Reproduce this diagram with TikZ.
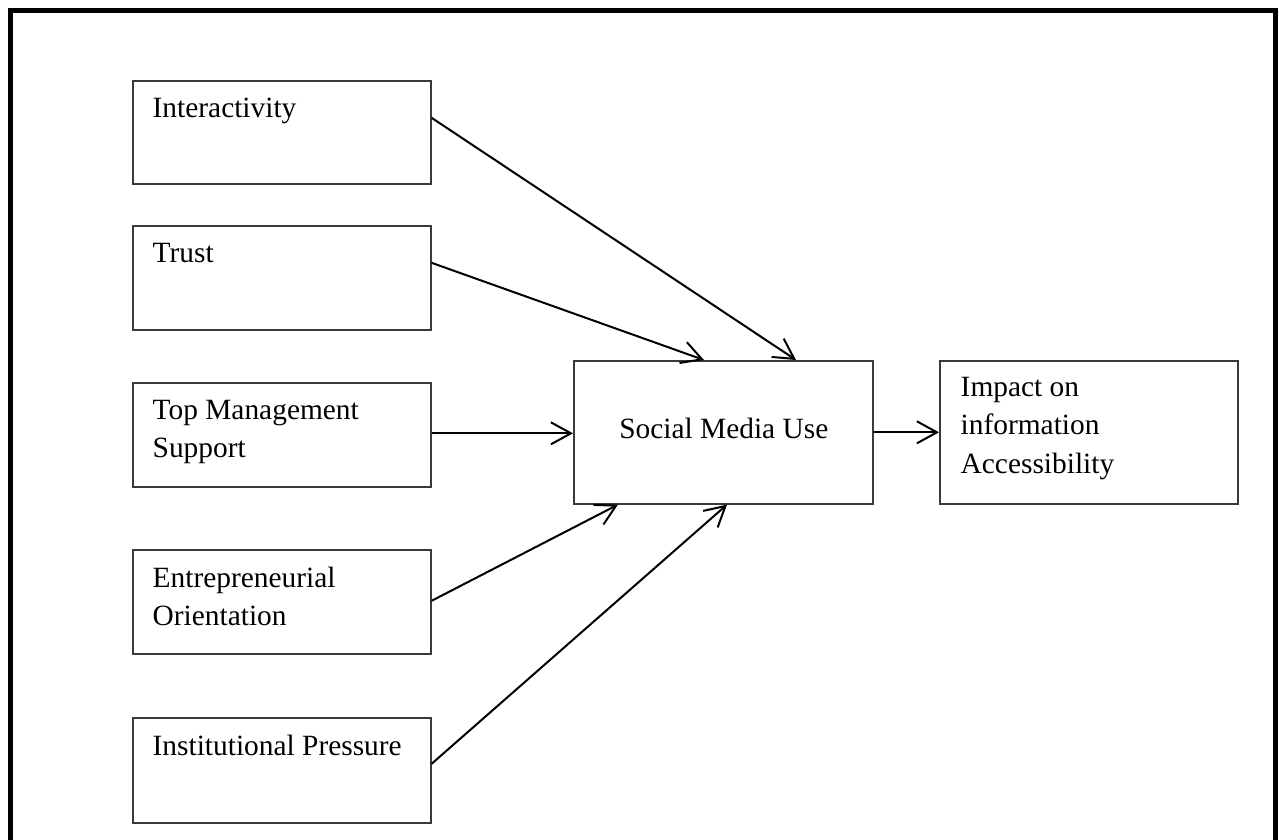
\documentclass[tikz,border=0pt]{standalone}
\usepackage{fontspec}
\setmainfont{Liberation Serif}
\usetikzlibrary{arrows.meta,calc}
\definecolor{boxgray}{HTML}{3A3A3A}
\begin{document}
\begin{tikzpicture}[x=1pt,y=-1pt,
  box/.style={draw=boxgray,line width=1.6pt,minimum width=298pt,minimum height=104pt,inner sep=0pt,anchor=north west},
  lbl/.style={anchor=north west,inner sep=0pt,align=left,font=\fontsize{29.4}{38.2}\selectfont},
  conn/.style={draw=black,line width=2pt,-{Straight Barb[length=20pt,width=22pt]}}]
\useasboundingbox (0,0) rectangle (1279,839);
% outer frame
\draw[line width=5pt] (10.3,845) -- (10.3,10.8) -- (1275.8,10.8) -- (1275.8,845);
% boxes
\node[box,minimum height=103pt] (inter) at (132,80) {};
\node[box] (trust) at (132,225) {};
\node[box] (tms) at (132,382) {};
\node[box] (eo) at (132,549) {};
\node[box,minimum height=105pt] (ip) at (132,717) {};
\node[box,minimum width=299pt,minimum height=143pt] (smu) at (573,360) {};
\node[box,minimum height=143pt] (imp) at (939,360) {};
% labels
\node[lbl] (tinter) at ($(inter.north west)+(20.5,18)$) {Interactivity};
\node[lbl] (ttrust) at ($(trust.north west)+(20.5,18)$) {Trust};
\node[lbl] (ttms) at ($(tms.north west)+(20.5,18)$) {Top Management\\Support};
\node[lbl] (teo) at ($(eo.north west)+(20.5,18)$) {Entrepreneurial\\Orientation};
\node[lbl] (tip) at ($(ip.north west)+(20.5,18)$) {Institutional Pressure};
\node[anchor=base,inner sep=0pt,font=\fontsize{29.4}{38.2}\selectfont] (tsmu) at ($(smu.center)+(0.5,5.8)$) {Social Media Use};
\node[lbl] (timp) at ($(imp.north west)+(21.5,17.2)$) {Impact on\\information\\Accessibility};
% connectors
\draw[conn] ([yshift=14.5pt]inter.east) -- ($(smu.north west)+(223,0)$);
\draw[conn] ([yshift=15pt]trust.east) -- ($(smu.north west)+(131,0)$);
\draw[conn] ([yshift=1.5pt]tms.east) -- ([yshift=1.5pt]tms.east -| smu.west);
\draw[conn] ([yshift=1pt]eo.east) -- ($(smu.south west)+(45,0)$);
\draw[conn] ([yshift=6.5pt]ip.east) -- ($(smu.south west)+(154,0)$);
\draw[conn] (smu.east) -- (imp.west);
\end{tikzpicture}
\end{document}
